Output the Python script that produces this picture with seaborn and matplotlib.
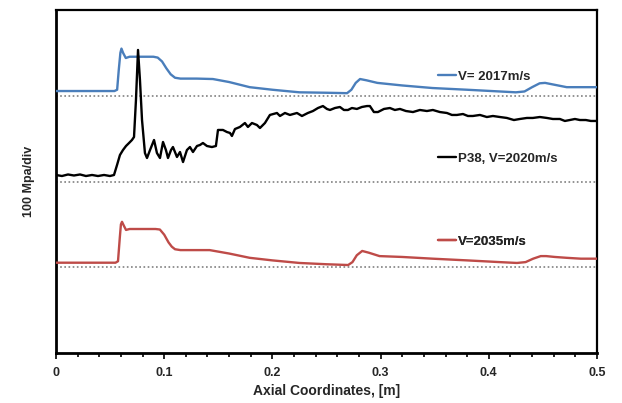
import numpy as np
import pandas as pd
import matplotlib
matplotlib.use("Agg")
import matplotlib.pyplot as plt
import seaborn as sns
from matplotlib.lines import Line2D

# ---- data (y in divisions of 100 MPa, traces offset by 1 div each) ----
blue_x = [0, 0.054, 0.0565, 0.058, 0.0595, 0.0605, 0.062, 0.0645, 0.068, 0.090, 0.094,
          0.098, 0.102, 0.106, 0.110, 0.115, 0.130, 0.145, 0.160, 0.179, 0.200, 0.225,
          0.250, 0.269, 0.273, 0.277, 0.281, 0.287, 0.297, 0.320, 0.348, 0.380, 0.410,
          0.425, 0.433, 0.440, 0.447, 0.452, 0.460, 0.472, 0.485, 0.5]
blue_y = [3.055, 3.055, 3.07, 3.30, 3.50, 3.55, 3.50, 3.44, 3.455, 3.455, 3.445,
          3.40, 3.32, 3.25, 3.21, 3.20, 3.20, 3.195, 3.16, 3.10, 3.07, 3.04,
          3.035, 3.03, 3.07, 3.15, 3.195, 3.18, 3.15, 3.12, 3.09, 3.07, 3.05,
          3.04, 3.05, 3.10, 3.145, 3.15, 3.13, 3.10, 3.10, 3.10]

red_x = [0, 0.055, 0.0573, 0.059, 0.0600, 0.061, 0.0625, 0.0647, 0.068, 0.092, 0.096,
         0.100, 0.104, 0.107, 0.110, 0.115, 0.130, 0.142, 0.160, 0.179, 0.200, 0.225,
         0.250, 0.270, 0.274, 0.278, 0.283, 0.289, 0.299, 0.320, 0.348, 0.380, 0.410,
         0.426, 0.434, 0.441, 0.448, 0.453, 0.461, 0.472, 0.485, 0.5]
red_y = [1.053, 1.053, 1.07, 1.35, 1.50, 1.53, 1.49, 1.435, 1.446, 1.446, 1.44,
         1.38, 1.29, 1.24, 1.21, 1.20, 1.20, 1.20, 1.16, 1.11, 1.08, 1.05,
         1.035, 1.026, 1.06, 1.14, 1.19, 1.17, 1.13, 1.12, 1.10, 1.08, 1.06,
         1.05, 1.06, 1.10, 1.13, 1.13, 1.12, 1.11, 1.10, 1.10]

p38_x = [0.000, 0.0055, 0.0111, 0.0166, 0.0222, 0.0277, 0.0333, 0.0388, 0.0444, 0.0499,
         0.0536, 0.0564, 0.0591, 0.0619, 0.0647, 0.0675, 0.0702, 0.0721, 0.0739, 0.0758,
         0.0776, 0.0795, 0.0822, 0.0841, 0.0869, 0.0906, 0.0933, 0.0961, 0.0989, 0.1016,
         0.1035, 0.1063, 0.1081, 0.1118, 0.1146, 0.1174, 0.1210, 0.1238, 0.1266, 0.1303,
         0.1331, 0.1358, 0.1395, 0.1441, 0.1478, 0.1497, 0.1543, 0.1580, 0.1608, 0.1626,
         0.1654, 0.1700, 0.1746, 0.1774, 0.1811, 0.1857, 0.1885, 0.1931, 0.1977, 0.2042,
         0.2070, 0.2116, 0.2162, 0.2227, 0.2273, 0.2328, 0.2375, 0.2421, 0.2467, 0.2504,
         0.2532, 0.2578, 0.2624, 0.2661, 0.2698, 0.2735, 0.2781, 0.2827, 0.2874, 0.2901,
         0.2938, 0.2975, 0.3031, 0.3086, 0.3132, 0.3179, 0.3234, 0.3299, 0.3363, 0.3428,
         0.3483, 0.3548, 0.3613, 0.3659, 0.3705, 0.3761, 0.3807, 0.3853, 0.3918, 0.3982,
         0.4038, 0.4103, 0.4167, 0.4232, 0.4287, 0.4352, 0.4407, 0.4472, 0.4537, 0.4592,
         0.4657, 0.4703, 0.4749, 0.4796, 0.4842, 0.4897, 0.4943, 0.5000]
p38_y = [2.076, 2.064, 2.082, 2.070, 2.082, 2.064, 2.076, 2.064, 2.076, 2.064,
         2.076, 2.192, 2.309, 2.367, 2.414, 2.449, 2.484, 2.519, 2.950, 3.534,
         3.183, 2.717, 2.332, 2.274, 2.367, 2.484, 2.332, 2.274, 2.461, 2.367,
         2.274, 2.367, 2.402, 2.286, 2.344, 2.227, 2.367, 2.402, 2.344, 2.414,
         2.426, 2.449, 2.414, 2.402, 2.414, 2.601, 2.601, 2.577, 2.566, 2.531,
         2.612, 2.636, 2.682, 2.636, 2.682, 2.659, 2.624, 2.682, 2.776, 2.799,
         2.764, 2.799, 2.776, 2.799, 2.764, 2.799, 2.822, 2.857, 2.880, 2.846,
         2.834, 2.857, 2.869, 2.834, 2.834, 2.857, 2.846, 2.869, 2.880, 2.880,
         2.810, 2.810, 2.846, 2.857, 2.834, 2.846, 2.822, 2.810, 2.834, 2.822,
         2.834, 2.810, 2.799, 2.776, 2.776, 2.787, 2.764, 2.764, 2.776, 2.752,
         2.764, 2.752, 2.741, 2.717, 2.729, 2.741, 2.741, 2.752, 2.741, 2.729,
         2.729, 2.706, 2.717, 2.729, 2.717, 2.717, 2.706, 2.706]

baselines = [1, 2, 3]
labels = ["V= 2017m/s", "P38, V=2020m/s", "V=2035m/s"]
colors = ["#4a7ebb", "#000000", "#be4b48"]
x_ticks = [0, 0.1, 0.2, 0.3, 0.4, 0.5]
x_tick_labels = ["0", "0.1", "0.2", "0.3", "0.4", "0.5"]

# ---- plotting ----
sns.set_style("white")
plt.rcParams["font.family"] = ["Liberation Sans", "DejaVu Sans"]

fig = plt.figure(figsize=(6.22, 4.03), dpi=100)
ax = fig.add_axes([56 / 622, 50 / 403, 541 / 622, 343 / 403])

for b in baselines:
    ax.axhline(b, color="#808080", lw=1.2, ls=(0, (1, 1.5)), zorder=1)

series = [(blue_x, blue_y), (p38_x, p38_y), (red_x, red_y)]
for (sx, sy), lab, c in zip(series, labels, colors):
    df = pd.DataFrame({"x": sx, "y": sy})
    sns.lineplot(data=df, x="x", y="y", color=c, lw=1.7, ax=ax, sort=False,
                 estimator=None, zorder=3)

ax.set_xlim(0, 0.5)
ax.set_ylim(0, 4)
ax.set_xticks(x_ticks)
ax.set_xticklabels(x_tick_labels, fontsize=9, fontweight="bold")
ax.set_xticks(np.arange(0, 0.5001, 0.02), minor=True)
ax.set_yticks([])
ax.tick_params(axis="x", which="both", bottom=True, top=False, color="black")
ax.tick_params(axis="x", which="major", direction="out", length=4, width=1.2, pad=6)
ax.tick_params(axis="x", which="minor", direction="out", length=3, width=1.2)
ax.set_xlabel("Axial Coordinates, [m]", fontsize=10, fontweight="bold", labelpad=4)
ax.set_ylabel("100 Mpa/div", fontsize=9, fontweight="bold", labelpad=15)

for s in ["left", "bottom"]:
    ax.spines[s].set_linewidth(2.0)
for s in ["top", "right"]:
    ax.spines[s].set_linewidth(1.6)
for s in ax.spines.values():
    s.set_color("black")
    s.set_visible(True)

# per-series labels (legend-like)
leg_y = [0.805, 0.566, 0.324]
for lab, c, yy in zip(labels, colors, leg_y):
    h = Line2D([0], [0], color=c, lw=1.7)
    lg = ax.legend([h], [lab], loc="center left", bbox_to_anchor=(0.706, yy),
                   frameon=False, handlelength=1.35, handletextpad=0.15,
                   borderpad=0, borderaxespad=0,
                   prop={"size": 9.5, "weight": "bold"})
    ax.add_artist(lg)

fig.savefig("out.png", dpi=100)
